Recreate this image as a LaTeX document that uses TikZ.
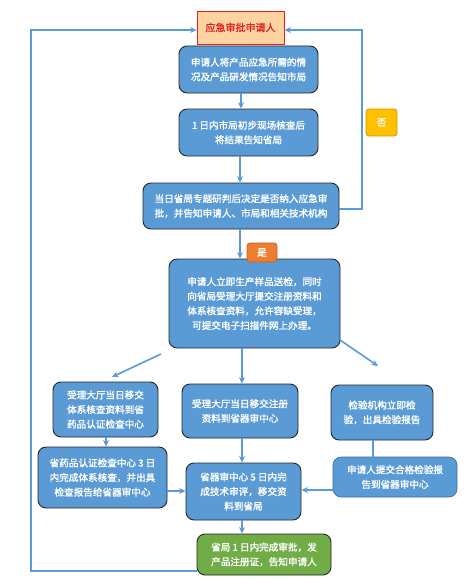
\documentclass[tikz,border=0pt]{standalone}
\usepackage{fontspec}
\setmainfont{Noto Sans CJK SC}[BoldFont={Noto Sans CJK SC},BoldFeatures={FakeBold=1.6}]
\usetikzlibrary{arrows.meta,calc}
\definecolor{conn}{HTML}{5B9BD5}
\definecolor{boxblue}{HTML}{5B9BD5}
\definecolor{boxgreen}{HTML}{70AD47}
\definecolor{topfill}{HTML}{FCD3A1}
\definecolor{topred}{HTML}{E3201B}
\definecolor{shifill}{HTML}{ED7D31}
\definecolor{foufill}{HTML}{FFC000}
\begin{document}
\begin{tikzpicture}[x=1pt,y=-1pt,
  bbox/.style={draw=black!85, line width=0.9pt, fill=boxblue, rounded corners=8pt, text=white,
    font=\fontsize{9.6}{14.6}\selectfont\bfseries, align=center, inner sep=0pt},
  gbox/.style={bbox, fill=boxgreen},
  tag/.style={rounded corners=3pt, line width=0.8pt, text=white, font=\fontsize{9.6}{11}\selectfont\bfseries, inner sep=0pt},
  cn/.style={draw=conn, line width=1.6pt, -{Stealth[length=6.5pt,width=6pt]}},
  cl/.style={draw=conn, line width=1.6pt}]
\useasboundingbox (0,0) rectangle (476,586);
\fill[white] (0,0) rectangle (476,586);

\node[draw=topred, line width=0.9pt, fill=topfill, text=topred, font=\fontsize{10}{12}\selectfont\bfseries,
  minimum width=87pt, minimum height=33pt, inner sep=0pt] (top) at (240.5,27.5) {应急审批申请人};

\node[bbox, minimum width=139pt, minimum height=47pt] (b2) at (248.5,69.5) {申请人将产品应急所需的情\\况及产品研发情况告知市局};
\node[bbox, minimum width=139pt, minimum height=47pt] (b3) at (248.5,132.5) {1 日内市局初步现场核查后\\将结果告知省局};
\node[bbox, minimum width=196pt, minimum height=46pt] (b4) at (241,206) {当日省局专题研判后决定是否纳入应急审\\批，并告知申请人、市局和相关技术机构};
\node[bbox, minimum width=171pt, minimum height=89pt] (b5) at (254.5,303.5) {申请人立即生产样品送检，同时\\向省局受理大厅提交注册资料和\\体系核查资料，允许容缺受理，\\可提交电子扫描件网上办理。};
\node[tag, draw=shifill!80!black, fill=shifill, minimum width=30pt, minimum height=19pt] (shi) at (262,252.5) {是};
\node[tag, draw=foufill!80!black, fill=foufill, minimum width=31pt, minimum height=27pt] (fou) at (381.5,122.5) {否};

\node[bbox, minimum width=105pt, minimum height=55pt] (b6a) at (105.5,409.5) {受理大厅当日移交\\体系核查资料到省\\药品认证检查中心};
\node[bbox, minimum width=116pt, minimum height=54pt] (b6b) at (240,411) {受理大厅当日移交注册\\资料到省器审中心};
\node[bbox, minimum width=102pt, minimum height=55pt] (b6c) at (382,412.5) {检验机构立即检\\验，出具检验报告};

\node[bbox, minimum width=129pt, minimum height=61pt] (b7a) at (102.5,477.5) {省药品认证检查中心 3 日\\内完成体系核查，并出具\\检查报告给省器审中心};
\node[bbox, minimum width=115pt, minimum height=57pt] (b7b) at (243.5,491.5) {省器审中心 5 日内完\\成技术审评，移交资\\料到省局};
\node[bbox, draw=boxblue!70!black, line width=0.6pt, minimum width=124pt, minimum height=40pt] (b7c) at (395,477) {申请人提交合格检验报\\告到省器审中心};

\node[gbox, minimum width=134pt, minimum height=41pt] (b8) at (264,554.5) {省局 1 日内完成审批，发\\产品注册证，告知申请人};

% vertical chain
\draw[cn] (b2.south -| 241,0) -- (b3.north -| 241,0);
\draw[cn] (b3.south -| 240,0) -- (b4.north -| 240,0);
\draw[cn] (b4.south -| 240,0) -- (b5.north -| 240,0);

% "no" loop on the right
\coordinate (rt) at (362,30);
\draw[cn] (b4.east |- 0,209) -| (rt) -- (top.east |- rt);

% loop on the left
\coordinate (lb) at (197,571);
\coordinate (lt) at (31,30);
\draw[cn] (lb) -- (lb -| lt) -- (lt) -- (top.west |- lt);

% branches from b5
\coordinate (s1) at (161,354);
\coordinate (e1) at (112,377);
\draw[cn] (s1) -- (e1);
\draw[cn] (b5.south -| 242,0) -- (b6b.north -| 242,0);
\coordinate (s3) at (340,340);
\coordinate (e3) at (378,366);
\draw[cn] (s3) -- (e3);

\draw[cn] (b6a.south -| 106,0) -- (b7a.north -| 106,0);
\draw[cn] (b6b.south -| 242,0) -- (b7b.north -| 242,0);
\draw[cl] (b6c.south -| 373,0) -- (b7c.north -| 373,0);

\draw[cn] (b7a.east |- 0,491) -- (b7b.west |- 0,491);
\draw[cn] (b7c.west |- 0,490) -- (b7b.east |- 0,490);
\draw[cn] (b7b.south -| 242,0) -- (b8.north -| 242,0);
\end{tikzpicture}
\end{document}
